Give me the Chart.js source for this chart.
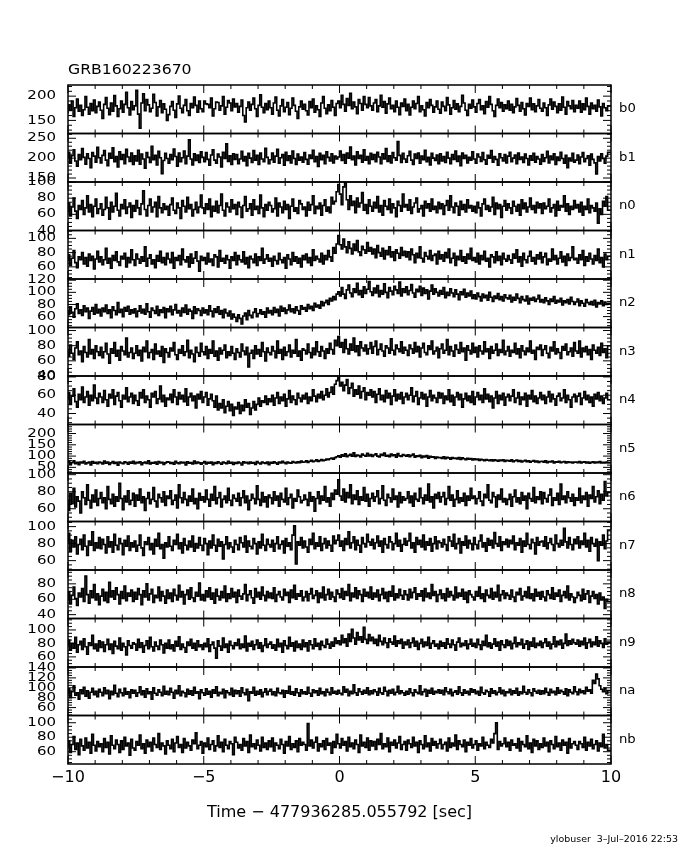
<!DOCTYPE html>
<html>
<head>
<meta charset="utf-8">
<script src="https://cdn.jsdelivr.net/npm/chart.js@4/dist/chart.umd.min.js"></script>
<style>
html,body{margin:0;padding:0;background:#fff}
#wrap{width:680px;height:850px;position:relative;background:#fff}
canvas{display:block}
</style>
</head>
<body>
<div id="wrap"><canvas id="c" width="680" height="850"></canvas></div>
<script>
// ---- data (counts per 0.0625 s bin) ----
const T_START = -10;
const T_END = 10;
const BIN_WIDTH = 0.0625;
const detectors = ['b0','b1','n0','n1','n2','n3','n4','n5','n6','n7','n8','n9','na','nb'];

const b0 = [165,182,171,190,158,176,194,169,181,160,172,199,177,163,185,170,192,166,179,188,
171,154,183,197,175,162,186,169,201,180,158,174,190,167,183,208,176,161,189,172,
180,212,163,134,186,205,170,193,182,168,175,204,187,159,178,191,166,184,173,150,
162,179,189,171,156,184,200,175,166,181,193,170,160,185,176,198,181,167,190,174,
168,190,184,183,176,196,159,174,188,187,171,180,199,163,177,191,186,170,194,178,
185,167,179,192,160,147,176,188,171,183,196,174,158,181,203,177,166,185,172,190,
176,163,186,198,171,159,180,193,168,177,187,162,175,196,181,169,154,178,190,173,
183,170,161,189,176,194,167,180,172,158,186,199,175,164,182,170,191,177,160,185,
190,176,202,183,169,195,181,206,174,188,178,164,193,185,171,199,183,176,197,180,
171,186,193,168,180,202,177,189,165,184,196,174,181,168,190,177,162,186,179,194,
170,183,161,177,190,174,185,199,168,180,172,159,187,176,193,181,167,178,190,173,
165,188,179,170,197,182,163,176,191,173,184,168,179,202,186,171,160,183,175,192,
178,167,185,193,172,180,164,189,177,199,183,170,158,181,194,176,187,169,182,174,
190,171,183,166,178,195,181,169,187,174,161,185,179,196,172,184,168,180,193,175,
169,186,176,160,182,194,173,188,179,166,184,171,198,177,163,189,180,174,191,168,
181,175,190,167,184,172,196,179,163,186,174,181,169,192,178,159,185,176,170,180];
const b1 = [198,215,187,206,221,193,180,209,196,224,202,185,211,199,176,214,205,190,227,201,
188,207,219,195,181,212,200,226,191,204,178,216,197,209,186,222,203,192,213,184,
206,193,220,185,210,198,175,214,202,189,230,196,207,183,217,201,161,194,212,199,
187,209,196,223,204,180,213,191,201,218,186,205,246,198,183,211,194,208,189,216,
202,191,214,197,182,208,221,195,187,210,203,178,215,199,236,192,206,184,211,197,
209,186,198,217,193,204,181,212,200,189,219,195,207,184,213,198,191,225,202,186,
196,213,190,205,222,187,201,209,182,215,194,206,188,218,199,184,210,195,203,190,
214,197,185,208,199,220,191,204,179,212,196,207,186,216,202,193,211,188,205,198,
203,218,194,209,187,213,200,228,196,205,183,216,199,207,190,221,195,204,186,212,
197,209,191,215,203,186,211,198,224,192,206,188,214,201,195,242,207,189,212,198,
190,206,217,195,184,210,199,213,187,205,196,220,191,202,183,212,200,194,208,186,
211,193,204,189,215,200,186,209,197,218,192,205,181,213,199,207,188,202,195,216,
198,187,210,203,192,214,196,185,207,200,219,190,204,197,182,211,201,193,209,188,
205,215,191,200,208,186,213,197,203,189,210,199,183,206,195,212,190,204,198,185,
209,192,201,217,188,205,196,211,184,203,194,215,199,187,207,176,200,193,212,190,
195,208,186,203,214,191,199,206,182,210,197,188,160,204,193,211,199,187,205,215];
const n0 = [62,74,58,69,80,64,55,71,66,77,60,68,83,63,72,57,70,79,61,67,
73,59,66,81,68,54,75,63,70,86,65,58,72,67,78,61,69,74,56,71,
64,77,68,60,73,89,66,58,71,79,63,69,75,57,82,68,62,73,66,70,
59,72,80,65,61,74,68,55,77,70,63,81,67,72,58,66,75,62,69,84,
68,61,73,66,79,57,70,64,76,62,71,85,65,58,74,69,63,78,67,72,
60,75,69,56,71,82,64,67,73,59,78,66,70,61,84,68,57,72,65,75,
71,63,67,80,58,74,69,62,76,66,72,55,70,79,64,68,61,77,73,66,
69,58,75,65,72,83,61,70,67,74,59,71,78,64,69,62,81,73,76,88,
97,85,72,94,99,78,66,83,71,76,62,80,69,74,87,65,72,61,78,70,
64,75,68,82,63,71,59,77,70,66,79,62,73,68,57,76,71,64,85,69,
72,65,78,61,69,74,80,63,67,71,58,76,68,73,64,79,66,70,62,75,
67,73,60,71,77,65,83,69,62,74,70,59,76,66,72,63,78,68,71,64,
70,62,75,68,58,73,79,66,71,64,69,81,60,74,67,72,56,70,77,65,
73,68,61,76,70,64,72,59,78,67,74,63,69,80,66,71,62,75,68,73,
61,74,67,70,79,63,68,72,58,76,65,71,69,83,64,73,60,70,66,77,
68,72,63,75,59,70,66,79,62,71,68,64,74,49,67,60,76,70,82,65];
const n1 = [68,77,62,72,83,66,59,74,70,80,64,73,61,78,69,75,57,71,82,67,
74,63,70,86,65,72,58,76,69,81,67,62,75,71,79,60,73,66,84,70,
62,78,71,65,74,68,88,61,72,77,64,70,59,76,68,82,66,73,63,79,
71,66,80,58,73,69,76,63,85,70,67,74,60,78,65,72,81,68,54,75,
69,73,64,79,67,71,62,77,74,60,83,68,72,65,76,70,58,74,69,80,
63,76,70,67,81,64,73,59,75,71,66,78,62,74,69,86,65,71,77,68,
72,61,75,69,64,79,70,66,73,58,77,71,63,80,68,74,65,72,60,76,
70,78,66,73,62,84,69,75,71,67,79,64,76,70,83,74,68,87,79,92,
104,91,85,99,88,80,95,86,78,92,83,97,81,76,89,84,79,94,82,87,
78,85,73,90,80,75,86,71,83,77,88,74,81,69,84,79,72,87,76,82,
74,81,70,85,77,66,79,73,88,72,67,80,75,71,83,69,76,78,64,82,
71,77,68,80,73,85,66,72,79,62,75,70,83,68,74,65,78,71,86,69,
73,67,79,64,76,70,82,68,72,60,77,74,66,81,69,75,63,79,71,68,
76,70,65,78,72,84,67,74,61,79,70,66,75,82,68,73,64,77,71,80,
66,74,79,63,71,68,85,70,76,64,72,81,67,75,62,78,69,73,88,70,
72,65,77,70,83,62,74,68,79,71,64,76,69,85,66,73,60,78,70,75];
const n2 = [70,63,76,67,59,73,81,65,71,62,78,68,74,57,69,75,64,80,66,72,
61,74,68,79,65,71,58,76,70,63,83,67,72,60,75,69,77,64,71,66,
73,60,69,78,66,72,64,81,68,59,74,70,65,77,62,71,67,75,58,73,
68,77,63,71,80,66,70,61,74,67,79,64,72,69,57,76,65,73,70,62,
74,66,71,63,78,69,60,73,67,76,64,70,58,72,66,61,69,56,64,59,
52,63,57,48,61,66,55,70,62,58,67,73,60,65,71,64,68,59,74,66,
70,63,75,67,72,61,77,69,74,65,71,79,68,73,66,76,70,64,78,72,
75,69,80,73,77,70,82,76,79,74,85,78,83,87,80,90,86,93,88,97,
101,94,108,97,90,104,112,99,93,106,100,115,96,103,92,109,98,105,118,101,
95,107,99,111,93,103,97,114,100,91,108,102,96,110,104,98,117,94,106,100,
109,96,103,113,99,92,105,101,110,95,107,98,104,89,102,112,97,106,100,94,
103,97,108,91,100,95,106,99,93,104,97,88,101,96,105,92,99,94,102,90,
96,89,99,93,86,97,91,95,87,100,92,85,94,90,98,88,93,86,96,91,
89,95,84,92,87,97,90,83,93,88,86,94,81,90,87,92,85,89,95,84,
88,83,91,86,80,89,85,93,82,87,84,90,79,86,83,88,81,92,85,80,
84,89,78,86,82,77,88,83,80,85,79,87,76,83,81,86,78,84,80,82];
const n3 = [74,66,81,70,62,77,85,68,73,59,79,71,65,88,69,75,63,80,72,67,
78,64,72,83,69,57,76,70,84,66,74,61,79,73,68,90,65,71,77,63,
70,80,67,74,60,78,72,86,64,71,75,62,82,69,73,66,79,58,76,71,
65,77,73,84,68,62,75,70,80,67,72,87,64,74,69,59,78,71,66,83,
72,68,79,63,75,70,86,66,73,61,77,69,74,81,64,72,67,79,70,62,
76,71,65,82,73,68,78,52,70,74,63,80,69,75,66,84,72,60,77,71,
68,79,73,64,86,70,75,62,78,67,72,81,65,74,70,88,66,73,61,76,
74,69,82,71,64,77,68,85,72,66,79,73,63,76,70,83,75,69,87,80,
92,78,84,71,88,76,69,82,74,90,72,80,67,85,77,73,81,69,76,84,
70,79,86,68,75,82,73,66,80,77,70,89,74,68,81,76,72,85,70,78,
74,67,81,76,70,84,72,79,65,77,83,71,68,80,75,86,69,73,78,64,
76,82,70,74,88,68,79,73,66,81,75,70,84,72,77,61,80,74,69,83,
71,78,65,80,73,69,85,72,76,63,79,70,74,82,67,75,71,87,68,73,
79,66,74,71,83,69,76,64,80,73,68,77,72,86,70,74,62,78,75,81,
67,75,80,70,64,78,73,85,69,76,71,63,79,74,82,68,72,77,66,84,
73,70,86,65,77,72,79,68,75,62,81,74,70,78,67,83,71,76,64,80];
const n4 = [56,63,50,59,67,53,47,61,55,69,52,58,64,49,60,54,71,57,51,62,
58,52,65,55,48,61,57,66,50,59,63,54,47,60,56,68,53,58,62,51,
60,54,49,63,57,66,52,59,55,47,62,58,64,51,56,70,53,60,48,57,
55,61,52,66,58,50,63,56,60,53,67,49,58,62,54,59,46,61,56,64,
52,58,63,49,56,61,54,47,59,44,51,46,55,41,48,53,43,50,38,47,
45,52,40,49,43,55,47,51,39,46,53,44,50,57,48,54,52,59,50,56,
53,60,49,57,63,51,58,54,61,48,56,65,52,59,55,50,62,57,53,60,
56,62,51,58,54,66,59,53,61,57,64,55,60,67,58,63,69,61,72,76,
79,70,74,65,71,77,62,68,73,59,66,61,70,57,64,68,55,63,60,66,
58,64,52,61,67,55,60,53,65,57,62,50,59,66,54,61,56,63,51,58,
62,55,60,68,53,59,64,50,57,63,56,61,48,58,65,54,60,57,52,63,
57,62,51,59,55,66,53,60,49,58,63,55,61,47,56,62,54,59,52,64,
50,58,63,55,60,52,67,56,61,53,59,46,57,64,51,60,55,62,49,58,
61,54,59,66,52,57,63,50,58,55,62,48,60,56,65,53,59,51,57,63,
55,60,51,58,64,53,61,56,49,59,62,54,57,66,52,60,55,47,58,61,
53,59,62,50,57,64,55,60,52,58,48,61,56,63,54,59,51,57,62,55];
const n5 = [68,75,64,71,79,66,72,62,74,69,77,65,70,73,61,76,68,72,66,74,
71,65,78,68,73,63,70,76,67,72,60,74,69,66,75,71,64,73,68,77,
66,72,69,75,62,70,74,67,79,65,71,68,73,64,76,69,72,63,70,75,
73,67,71,64,77,70,66,74,69,72,61,75,68,71,65,78,67,73,70,64,
70,76,65,72,68,74,62,71,67,75,69,64,73,70,66,77,68,72,63,71,
67,73,69,61,75,70,72,66,74,68,71,63,76,69,65,73,70,67,74,62,
72,68,75,70,64,73,69,77,71,66,74,70,68,76,72,69,75,71,78,73,
74,79,72,77,81,75,78,83,76,80,85,79,82,87,84,88,91,86,93,97,
101,95,106,99,110,97,103,108,100,114,98,105,102,96,109,104,99,112,101,107,
98,105,110,100,96,108,103,113,99,104,97,109,102,106,95,111,101,98,107,103,
100,106,97,103,109,95,101,98,104,93,100,96,102,91,99,95,97,90,96,93,
94,90,97,88,95,92,86,93,89,91,87,94,85,92,88,84,90,86,89,83,
88,84,87,81,86,83,79,85,82,80,84,78,83,81,77,82,79,84,76,81,
80,77,83,75,79,82,76,80,74,78,81,75,79,73,77,80,74,78,72,76,
77,73,79,71,76,74,78,70,75,73,77,71,74,76,70,75,72,74,69,73,
74,71,76,69,73,75,70,74,68,72,75,70,73,71,76,69,72,70,74,71];
const n6 = [71,58,78,66,84,62,74,69,55,80,73,65,88,70,61,76,68,82,64,72,
79,67,73,60,86,71,66,77,63,74,69,90,72,59,75,68,81,65,70,78,
63,76,70,83,67,74,58,72,79,66,71,85,69,62,77,73,68,80,64,75,
72,81,65,70,76,61,88,73,67,79,71,64,75,69,83,66,72,60,78,70,
74,68,82,71,63,77,70,86,66,73,79,62,71,75,67,84,70,64,76,72,
69,78,64,73,81,67,75,59,70,77,72,66,87,71,64,79,68,74,62,76,
73,66,80,70,75,63,78,71,68,84,65,73,77,61,72,69,82,74,67,70,
76,71,64,79,69,74,57,72,80,66,75,70,86,68,73,63,78,71,82,77,
94,75,70,83,68,79,73,88,66,76,71,81,65,74,70,85,69,77,63,72,
78,69,74,81,66,72,87,70,64,77,73,68,83,71,75,62,79,67,74,70,
72,80,67,75,63,78,71,69,84,73,66,76,70,89,68,74,61,77,72,79,
68,74,79,65,72,86,70,76,63,71,81,67,73,69,78,64,75,70,84,72,
75,66,72,80,69,64,77,73,88,70,67,79,74,62,76,71,83,68,72,65,
71,77,63,74,82,68,73,66,79,70,75,60,78,72,69,85,67,74,71,80,
66,79,72,68,76,83,64,73,70,78,65,89,71,75,67,80,73,69,77,64,
73,70,84,67,75,71,79,63,76,72,86,68,74,81,66,77,70,92,75,79];
const n7 = [80,92,71,84,76,88,68,79,85,73,90,77,66,83,78,94,72,81,75,87,
74,85,79,69,88,76,82,70,91,78,73,86,80,67,84,77,89,72,81,76,
83,71,78,90,75,66,82,79,87,73,80,68,85,77,92,74,79,63,81,76,
88,77,72,84,79,91,74,81,69,86,78,73,83,76,89,71,80,75,87,78,
72,86,80,67,83,75,90,78,71,85,77,82,62,79,88,74,81,76,70,84,
79,73,87,81,76,89,70,83,77,74,86,80,68,82,75,91,78,72,85,79,
76,84,71,80,88,74,79,83,69,86,77,81,73,90,101,56,82,78,87,75,
83,76,70,85,79,92,74,81,77,88,72,80,86,75,83,78,71,89,80,84,
90,77,83,72,86,79,94,75,81,88,73,84,78,70,87,80,76,91,82,78,
85,74,81,89,77,83,70,86,79,75,88,82,73,80,92,77,84,71,79,86,
78,83,92,75,81,70,87,79,84,76,90,73,82,78,86,71,80,88,74,83,
81,76,85,79,72,88,83,77,91,74,80,86,69,82,78,89,75,84,80,73,
87,79,74,83,90,76,81,71,86,78,84,75,93,80,77,88,72,82,79,85,
76,84,80,89,73,81,78,86,70,83,77,92,79,74,85,81,68,87,78,82,
83,77,88,74,81,86,79,72,90,80,76,84,78,98,82,75,87,79,73,85,
80,88,75,83,79,92,76,84,71,87,80,77,85,60,82,78,90,74,83,96];
const n8 = [58,70,54,65,76,61,52,68,63,74,57,90,66,55,71,62,79,59,67,53,
64,73,58,69,56,82,63,71,60,75,66,54,70,61,77,58,68,64,72,57,
69,60,74,66,53,71,63,80,59,67,73,56,65,62,76,58,70,64,55,72,
61,68,57,73,65,59,78,63,70,54,66,72,60,75,62,57,69,64,81,59,
66,58,71,63,75,60,68,55,73,64,59,70,62,77,57,67,61,74,63,69,
56,72,64,60,67,79,58,66,71,62,55,74,63,69,60,76,65,58,70,62,
68,61,75,57,66,70,63,59,73,65,69,56,72,62,78,60,67,64,71,58,
63,70,58,67,74,61,65,71,56,68,62,76,59,66,73,60,69,63,57,72,
67,62,74,60,70,65,79,58,68,63,75,61,71,66,57,73,64,69,62,76,
60,68,63,72,58,66,74,61,69,57,70,64,77,59,67,62,73,65,60,71,
66,59,73,62,69,75,60,67,64,71,58,74,63,68,61,79,65,70,57,66,
72,61,67,58,74,63,70,65,59,76,62,68,64,73,60,69,56,71,66,63,
59,70,64,76,61,67,57,72,65,62,74,60,69,63,78,58,66,71,61,68,
65,60,72,63,57,69,66,74,59,64,70,62,76,61,67,58,73,64,69,60,
70,63,58,71,66,61,75,60,68,64,72,57,65,70,62,77,59,67,63,56,
62,69,65,58,73,60,67,71,56,64,70,61,66,54,68,59,63,48,60,57];
const n9 = [76,85,70,80,73,89,67,78,83,71,87,75,64,81,77,92,72,79,69,84,
74,82,68,78,86,71,79,65,83,76,72,88,70,80,75,63,84,77,73,81,
79,70,86,74,81,67,77,84,72,89,75,69,82,76,71,85,78,66,80,73,
85,72,78,69,83,76,90,71,79,74,67,82,77,86,73,80,70,84,75,78,
71,80,75,87,68,78,82,73,58,84,76,70,88,74,79,67,83,77,72,81,
77,86,72,79,74,91,69,80,76,83,71,78,85,73,81,68,77,87,74,79,
82,73,78,70,86,75,80,67,84,77,72,89,76,81,69,83,74,79,71,85,
75,81,69,84,78,72,87,76,80,71,83,77,74,86,79,73,82,76,88,80,
84,78,92,81,87,76,94,83,101,88,79,96,85,90,82,104,86,80,93,84,
89,80,86,77,92,83,78,88,81,74,87,82,79,91,76,84,80,86,73,82,
78,85,74,81,88,76,83,71,80,86,75,82,77,89,73,80,84,76,79,72,
83,76,81,73,87,79,74,85,78,70,82,88,75,80,77,84,72,79,86,76,
80,74,86,78,71,83,77,92,75,81,73,79,87,76,82,70,84,78,74,85,
77,83,72,80,89,75,81,78,86,73,79,84,71,82,76,88,74,80,77,83,
74,81,87,76,82,72,79,90,75,83,78,85,73,80,94,77,84,79,86,81,
79,85,76,83,78,88,73,81,86,75,82,78,90,76,84,80,74,87,79,82];
const na = [87,98,80,92,104,85,90,77,96,88,101,83,94,79,91,99,86,93,82,97,
91,84,100,88,95,78,93,86,105,89,82,97,90,84,99,87,92,80,96,89,
95,83,90,102,86,94,81,98,88,92,77,100,89,85,96,91,84,103,87,93,
86,99,91,79,95,88,104,84,93,90,82,97,87,94,85,101,89,92,78,96,
90,85,98,87,93,81,96,89,102,84,91,88,97,80,94,90,86,99,83,95,
88,94,83,100,90,86,97,74,92,89,101,85,93,87,96,82,91,98,86,93,
97,86,92,84,99,90,88,95,81,94,89,103,87,92,85,98,90,83,96,88,
92,87,101,89,83,96,90,94,85,99,88,92,84,97,91,86,100,89,93,87,
95,89,86,102,91,97,84,93,88,106,90,85,98,92,87,95,89,100,86,94,
88,96,92,85,99,90,87,101,93,84,95,89,97,86,91,103,88,94,90,85,
93,87,98,90,84,96,91,88,104,86,92,97,83,95,89,99,87,93,90,96,
89,95,86,100,92,88,97,84,91,94,87,102,90,85,96,89,93,86,98,91,
96,88,93,85,101,90,87,95,92,83,98,89,94,86,91,100,88,95,84,92,
90,97,86,94,89,99,85,92,88,103,91,87,96,90,84,98,93,89,95,87,
94,88,99,91,85,97,90,93,86,100,89,95,92,87,98,84,96,91,88,102,
92,86,97,90,94,88,101,93,96,89,115,109,128,118,104,97,92,99,88,94];
const nb = [66,75,59,70,81,63,72,56,77,68,62,79,65,73,58,84,69,61,74,67,
71,60,78,66,73,57,82,69,64,76,70,59,75,63,80,68,72,55,77,65,
62,74,69,83,64,71,58,76,67,73,61,79,70,66,85,63,72,68,57,75,
69,64,77,60,72,81,66,70,59,78,65,73,68,62,76,71,86,64,69,74,
58,72,67,79,63,70,75,61,68,82,66,73,60,77,69,64,74,71,56,80,
73,65,70,62,78,68,74,59,83,67,71,64,76,69,61,80,66,72,63,75,
67,79,61,72,69,64,77,70,58,74,68,81,63,71,66,75,60,78,69,73,
70,62,99,68,76,65,73,80,61,71,67,75,63,78,69,72,58,74,66,84,
71,65,78,69,74,61,80,67,72,64,76,70,59,83,68,73,66,79,62,75,
68,74,63,77,70,85,64,71,67,79,60,73,69,76,65,72,81,63,70,74,
62,76,71,66,80,68,73,59,75,70,64,82,67,72,61,78,69,74,65,71,
77,64,70,73,61,79,66,72,68,83,63,75,70,67,76,60,73,69,78,65,
70,75,62,71,68,80,64,73,69,66,77,72,85,100,63,74,68,71,79,67,
73,62,76,69,71,65,78,61,74,70,67,82,64,72,59,77,68,75,63,71,
66,79,68,73,60,75,70,64,81,67,72,62,76,69,73,58,78,65,71,74,
69,63,74,71,66,80,62,73,68,77,64,70,75,61,72,67,84,65,70,62];

const seriesValues = [b0,b1,n0,n1,n2,n3,n4,n5,n6,n7,n8,n9,na,nb];

// axis ranges and tick labels of each panel
const yMin = [123,140,40,43,42,40,28,25,45,49,35,45,44,43];
const yMax = [223,262,100,111,122,104,81,240,102,106,98,117,142,110];
const yTickLabels = [[150,200],[150,200,250],[40,60,80,100],[60,80,100],[60,80,100,120],
  [40,60,80,100],[40,60,80],[50,100,150,200],[60,80,100],[60,80,100],[40,60,80],
  [60,80,100],[60,80,100,120,140],[60,80,100]];
const yMinorStep = [10,10,5,5,5,5,5,10,5,5,5,5,5,5];
const xTickLabels = [-10,-5,0,5,10];
const titleText = 'GRB160223670';
const xTitleText = 'Time \u2212 477936285.055792 [sec]';
const footerText = 'ylobuser  3\u2013Jul\u20132016 22:53';

// ---- chart ----
const FONT = '"DejaVu Sans", "Liberation Sans", sans-serif';

function toPoints(values) {
  const pts = values.map((v, i) => ({x: T_START + i * BIN_WIDTH, y: v}));
  pts.push({x: T_END, y: values[values.length - 1]});
  return pts;
}

function stretchedText(ctx, text, x, y, align, sx) {
  ctx.save();
  ctx.translate(x, y);
  ctx.scale(sx, 1);
  ctx.textAlign = align;
  ctx.textBaseline = 'middle';
  ctx.fillText(text, 0, 0);
  ctx.restore();
}

const panelPlugin = {
  id: 'panelPlugin',
  afterDatasetsDraw(chart) {
    const ctx = chart.ctx;
    const xs = chart.scales.x;
    const L = xs.left, R = xs.right;
    ctx.save();
    ctx.strokeStyle = '#000';
    detectors.forEach((name, k) => {
      const ys = chart.scales['y' + k];
      const top = ys.top, bot = ys.bottom;
      ctx.lineWidth = 1.5;
      ctx.strokeRect(L, top, R - L, bot - top);
      ctx.lineWidth = 1;
      ctx.beginPath();
      for (let t = T_START; t <= T_END; t += 1) {
        const px = xs.getPixelForValue(t);
        const len = (t % 5 === 0) ? 8 : 4;
        ctx.moveTo(px, top); ctx.lineTo(px, top + len);
        ctx.moveTo(px, bot); ctx.lineTo(px, bot - len);
      }
      const step = yMinorStep[k];
      const majorStep = yTickLabels[k][1] - yTickLabels[k][0];
      for (let v = Math.ceil(yMin[k] / step) * step; v <= yMax[k]; v += step) {
        const py = ys.getPixelForValue(v);
        const len = (v % majorStep === 0) ? 8 : 4;
        ctx.moveTo(L, py); ctx.lineTo(L + len, py);
        ctx.moveTo(R, py); ctx.lineTo(R - len, py);
      }
      ctx.stroke();
    });
    ctx.restore();
  },
  afterDraw(chart) {
    const ctx = chart.ctx;
    ctx.save();
    ctx.fillStyle = '#000';
    ctx.font = '12px ' + FONT;
    detectors.forEach((name, k) => {
      const ys = chart.scales['y' + k];
      ys.ticks.forEach(tk => {
        const py = ys.getPixelForValue(tk.value);
        stretchedText(ctx, String(tk.value), 56, py, 'right', 1.25);
      });
      stretchedText(ctx, name, 619, (ys.top + ys.bottom) / 2, 'left', 1.1);
    });
    ctx.font = '14px ' + FONT;
    stretchedText(ctx, titleText, 68, 70, 'left', 1.12);
    ctx.font = '9px ' + FONT;
    stretchedText(ctx, footerText, 678, 840, 'right', 1.05);
    ctx.restore();
  }
};

const scales = {
  x: {
    type: 'linear',
    position: 'bottom',
    min: T_START,
    max: T_END,
    grid: {display: false, drawTicks: false},
    border: {display: false},
    afterBuildTicks: s => { s.ticks = xTickLabels.map(v => ({value: v})); },
    ticks: {
      autoSkip: false,
      maxRotation: 0,
      padding: 4,
      color: '#000',
      font: {family: FONT, size: 16},
      callback: v => (v < 0 ? '\u2212' + Math.abs(v) : String(v))
    },
    title: {
      display: true,
      text: xTitleText,
      color: '#000',
      font: {family: FONT, size: 16},
      padding: {top: 0, bottom: 6}
    },
    afterFit: s => { s.height = 64; }
  }
};

const datasets = [];
detectors.forEach((name, k) => {
  scales['y' + k] = {
    type: 'linear',
    position: 'left',
    stack: 'detectors',
    stackWeight: 1,
    weight: detectors.length - k,
    min: yMin[k],
    max: yMax[k],
    grid: {display: false, drawTicks: false},
    border: {display: false},
    ticks: {display: false},
    afterBuildTicks: s => { s.ticks = yTickLabels[k].filter(v => v >= yMin[k] && v <= yMax[k]).map(v => ({value: v})); },
    afterFit: s => { s.width = 68; }
  };
  datasets.push({
    label: name,
    data: toPoints(seriesValues[k]),
    yAxisID: 'y' + k,
    xAxisID: 'x',
    stepped: 'after',
    borderColor: '#000',
    borderWidth: 1.6,
    pointRadius: 0,
    fill: false,
    tension: 0
  });
});

new Chart(document.getElementById('c'), {
  type: 'line',
  data: {datasets},
  options: {
    responsive: false,
    devicePixelRatio: 1,
    animation: false,
    layout: {padding: {top: 85, right: 69, bottom: 22, left: 0}},
    plugins: {legend: {display: false}, tooltip: {enabled: false}, title: {display: false}},
    scales
  },
  plugins: [panelPlugin]
});
</script>
</body>
</html>
